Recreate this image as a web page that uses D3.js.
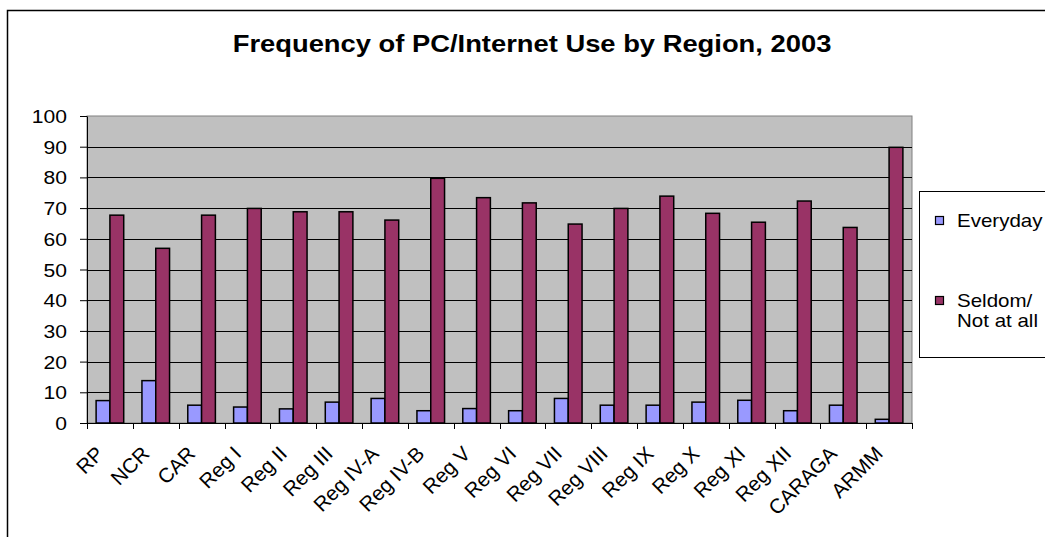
<!DOCTYPE html>
<html>
<head>
<meta charset="utf-8">
<script src="https://cdn.jsdelivr.net/npm/d3@7"></script>
<style>
  html, body { margin: 0; padding: 0; background: #fff; }
  svg { display: block; }
  text { font-family: "Liberation Sans", Arial, sans-serif; fill: #000; }
</style>
</head>
<body>
<svg id="chart" width="1045" height="537"></svg>
<script>
const categories = ["RP","NCR","CAR","Reg I","Reg II","Reg III","Reg IV-A","Reg IV-B","Reg V","Reg VI","Reg VII","Reg VIII","Reg IX","Reg X","Reg XI","Reg XII","CARAGA","ARMM"];
const everyday = [7.3, 13.8, 5.8, 5.2, 4.6, 6.8, 8.0, 4.0, 4.7, 4.0, 8.0, 5.8, 5.8, 6.8, 7.4, 4.0, 5.8, 1.2];
const seldom   = [67.7, 56.9, 67.7, 69.9, 68.8, 68.8, 66.1, 79.7, 73.4, 71.7, 64.8, 69.9, 73.9, 68.3, 65.4, 72.3, 63.7, 89.8];
const seriesNames = ["Everyday", "Seldom/ Not at all"];
const seriesColors = ["#9999FF", "#993366"];
const yTicks = [0,10,20,30,40,50,60,70,80,90,100];
const title = "Frequency of PC/Internet Use by Region, 2003";

const SX = 1.14; // horizontal stretch of the original rendering
const svg = d3.select("#chart");

// outer chart frame
svg.append("rect").attr("x", 7.5).attr("y", 10.5).attr("width", 1200).attr("height", 700)
  .attr("fill", "#fff").attr("stroke", "#000").attr("stroke-width", 1.5);

const plot = {left: 87, right: 912, top: 116, bottom: 423};

const x0 = d3.scaleBand().domain(categories).range([plot.left, plot.right]).paddingInner(0).paddingOuter(0);
const x1 = d3.scaleBand().domain(seriesNames).range([0, x0.bandwidth()]).paddingInner(0).paddingOuter(0.66);
const y = d3.scaleLinear().domain([0, 100]).range([plot.bottom, plot.top]);

// plot background
svg.append("rect").attr("x", plot.left).attr("y", plot.top)
  .attr("width", plot.right - plot.left).attr("height", plot.bottom - plot.top)
  .attr("fill", "#C0C0C0").attr("stroke", "#808080").attr("stroke-width", 1);

// gridlines
svg.append("g").selectAll("line").data(yTicks.filter(t => t > 0 && t < 100)).join("line")
  .attr("x1", plot.left).attr("x2", plot.right)
  .attr("y1", d => Math.round(y(d)) + 0.5).attr("y2", d => Math.round(y(d)) + 0.5)
  .attr("stroke", "#000").attr("stroke-width", 1);

// bars
const data = categories.map((c, i) => ({cat: c, vals: [everyday[i], seldom[i]]}));
const groups = svg.append("g").selectAll("g").data(data).join("g")
  .attr("transform", d => `translate(${x0(d.cat)},0)`);
groups.selectAll("rect").data(d => d.vals.map((v, j) => ({name: seriesNames[j], v, j}))).join("rect")
  .attr("x", d => x1(d.name)).attr("width", x1.bandwidth())
  .attr("y", d => y(d.v)).attr("height", d => y(0) - y(d.v))
  .attr("fill", d => seriesColors[d.j]).attr("stroke", "#000").attr("stroke-width", 1.5);

// y axis
const yAxis = d3.axisLeft(y).tickValues(yTicks).tickSize(7).tickSizeOuter(0).tickFormat(d3.format("d"));
const gy = svg.append("g").attr("transform", `translate(${plot.left},0)`).call(yAxis);
gy.select(".domain").attr("stroke", "#000");
gy.selectAll(".tick line").attr("stroke", "#000");
gy.selectAll(".tick text").each(function(d) {
  const t = d3.select(this);
  t.attr("x", null).attr("dy", null).attr("font-size", null).attr("font-family", null);
  t.attr("text-anchor", "end").attr("font-size", "18.5px")
   .attr("transform", `translate(-20,${6.5}) scale(${SX},1)`);
});

// x axis
const xAxis = d3.axisBottom(x0).tickSize(0).tickSizeOuter(0);
const gx = svg.append("g").attr("transform", `translate(0,${plot.bottom})`).call(xAxis);
gx.select(".domain").attr("stroke", "#000");
gx.selectAll(".tick text").remove();
// category boundary ticks
svg.append("g").selectAll("line").data(d3.range(categories.length + 1)).join("line")
  .attr("x1", i => Math.round(plot.left + i * x0.step()) + 0.5)
  .attr("x2", i => Math.round(plot.left + i * x0.step()) + 0.5)
  .attr("y1", plot.bottom).attr("y2", plot.bottom + 6)
  .attr("stroke", "#000");
// rotated labels
svg.append("g").selectAll("text").data(categories).join("text")
  .attr("transform", d => `translate(${x0(d) + x0.bandwidth() / 2 - 5},${455}) rotate(-45)`)
  .attr("text-anchor", "end").attr("font-size", "20.5px")
  .text(d => d);

// title
svg.append("text")
  .attr("transform", `translate(532,52) scale(${SX},1)`)
  .attr("text-anchor", "middle").attr("font-size", "24px").attr("font-weight", "bold")
  .text(title);

// legend
svg.append("rect").attr("x", 919.5).attr("y", 191.5).attr("width", 200).attr("height", 166)
  .attr("fill", "#fff").attr("stroke", "#000").attr("stroke-width", 1);
const legendRows = [
  {name: seriesNames[0], color: seriesColors[0], lines: ["Everyday"], y: 220},
  {name: seriesNames[1], color: seriesColors[1], lines: ["Seldom/", "Not at all"], y: 300}
];
const lg = svg.append("g").selectAll("g").data(legendRows).join("g");
lg.append("rect").attr("x", 935.5).attr("y", d => d.y - 3.5).attr("width", 8).attr("height", 8)
  .attr("fill", d => d.color).attr("stroke", "#000").attr("stroke-width", 1.2);
lg.each(function(d) {
  const g = d3.select(this);
  d.lines.forEach((ln, k) => {
    g.append("text")
      .attr("transform", `translate(957,${d.y + 7 + k * 20}) scale(${SX},1)`)
      .attr("font-size", "18px").text(ln);
  });
});
</script>
</body>
</html>
